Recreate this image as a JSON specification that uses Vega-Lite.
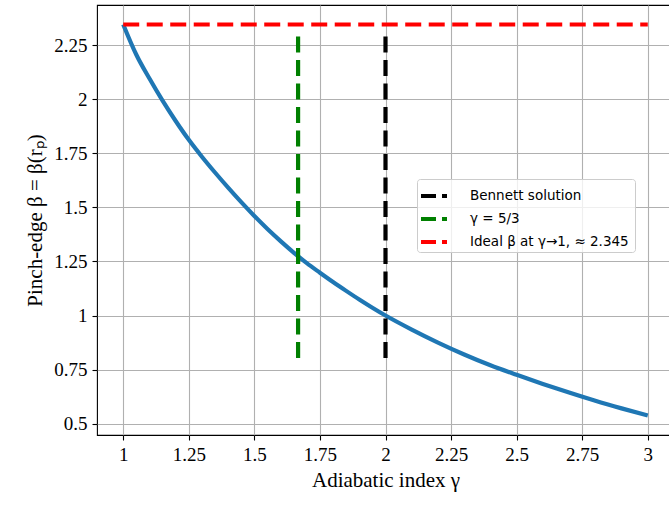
{
  "$schema": "https://vega.github.io/schema/vega-lite/v6.json",
  "width": 577,
  "height": 430,
  "autosize": {"type": "none"},
  "padding": {"left": 97, "top": 5, "right": 0, "bottom": 71},
  "background": "white",
  "config": {
    "view": {"stroke": "black", "strokeWidth": 1.1},
    "axis": {
      "domain": false,
      "grid": true,
      "gridColor": "#b0b0b0",
      "gridWidth": 1.1,
      "tickColor": "black",
      "tickSize": 5,
      "tickWidth": 1.1,
      "labelFont": "Liberation Serif",
      "labelFontSize": 19,
      "labelColor": "black",
      "labelPadding": 5,
      "labelExpr": "'' + datum.value",
      "titleFont": "Liberation Serif",
      "titleFontSize": 21,
      "titleFontWeight": "normal",
      "titleColor": "black"
    }
  },
  "datasets": {
    "curve": [
      {"gamma": 1.0, "beta": 2.345},
      {"gamma": 1.05, "beta": 2.205},
      {"gamma": 1.1, "beta": 2.095},
      {"gamma": 1.15, "beta": 1.993},
      {"gamma": 1.2, "beta": 1.899},
      {"gamma": 1.25, "beta": 1.812},
      {"gamma": 1.3, "beta": 1.734},
      {"gamma": 1.35, "beta": 1.661},
      {"gamma": 1.4, "beta": 1.591},
      {"gamma": 1.45, "beta": 1.524},
      {"gamma": 1.5, "beta": 1.46},
      {"gamma": 1.55, "beta": 1.4},
      {"gamma": 1.6, "beta": 1.344},
      {"gamma": 1.65, "beta": 1.291},
      {"gamma": 1.7, "beta": 1.242},
      {"gamma": 1.75, "beta": 1.198},
      {"gamma": 1.8, "beta": 1.155},
      {"gamma": 1.85, "beta": 1.114},
      {"gamma": 1.9, "beta": 1.074},
      {"gamma": 1.95, "beta": 1.036},
      {"gamma": 2.0, "beta": 1.0},
      {"gamma": 2.1, "beta": 0.935},
      {"gamma": 2.2, "beta": 0.875},
      {"gamma": 2.3, "beta": 0.82},
      {"gamma": 2.4, "beta": 0.77},
      {"gamma": 2.5, "beta": 0.726},
      {"gamma": 2.6, "beta": 0.684},
      {"gamma": 2.7, "beta": 0.644},
      {"gamma": 2.8, "beta": 0.606},
      {"gamma": 2.9, "beta": 0.571},
      {"gamma": 3.0, "beta": 0.538}
    ],
    "refs": [
      {"series": "Bennett solution", "xa": 2.0, "xb": 2.0, "ya": 2.29, "yb": 0.8},
      {"series": "γ = 5/3", "xa": 1.6667, "xb": 1.6667, "ya": 2.29, "yb": 0.8},
      {"series": "Ideal β at γ→1,  ≈ 2.345", "xa": 1.0, "xb": 3.0, "ya": 2.345, "yb": 2.345}
    ]
  },
  "layer": [
    {
      "data": {"name": "curve"},
      "mark": {"type": "line", "color": "#1f77b4", "strokeWidth": 4.2, "interpolate": "monotone", "clip": true},
      "encoding": {
        "x": {
          "field": "gamma", "type": "quantitative",
          "scale": {"domain": [0.9, 3.1], "nice": false, "zero": false},
          "axis": {"values": [1, 1.25, 1.5, 1.75, 2, 2.25, 2.5, 2.75, 3], "title": "Adiabatic index γ", "titlePadding": 5}
        },
        "y": {
          "field": "beta", "type": "quantitative",
          "scale": {"domain": [0.448, 2.435], "nice": false, "zero": false},
          "axis": {"values": [0.5, 0.75, 1, 1.25, 1.5, 1.75, 2, 2.25], "title": "Pinch-edge β = β(rₚ)", "titlePadding": 8}
        }
      }
    },
    {
      "data": {"name": "refs"},
      "mark": {"type": "rule", "strokeWidth": 4.2, "strokeDash": [16, 7.5], "clip": true},
      "encoding": {
        "x": {"field": "xa", "type": "quantitative"},
        "x2": {"field": "xb"},
        "y": {"field": "ya", "type": "quantitative"},
        "y2": {"field": "yb"},
        "color": {
          "field": "series", "type": "nominal",
          "scale": {"domain": ["Bennett solution", "γ = 5/3", "Ideal β at γ→1,  ≈ 2.345"], "range": ["black", "#008000", "#ff0000"]},
          "legend": {
            "title": null,
            "orient": "none",
            "legendX": 320,
            "legendY": 174,
            "symbolType": "stroke",
            "symbolSize": 676,
            "symbolStrokeWidth": 4,
            "symbolDash": [15, 6],
            "labelFont": "DejaVu Sans",
            "labelFontSize": 13.5,
            "labelColor": "black",
            "labelLimit": 400,
            "labelOffset": 21,
            "rowPadding": 0,
            "padding": 2,
            "fillColor": "rgba(255,255,255,0.8)",
            "strokeColor": "#cccccc",
            "cornerRadius": 3
          }
        }
      }
    }
  ]
}
